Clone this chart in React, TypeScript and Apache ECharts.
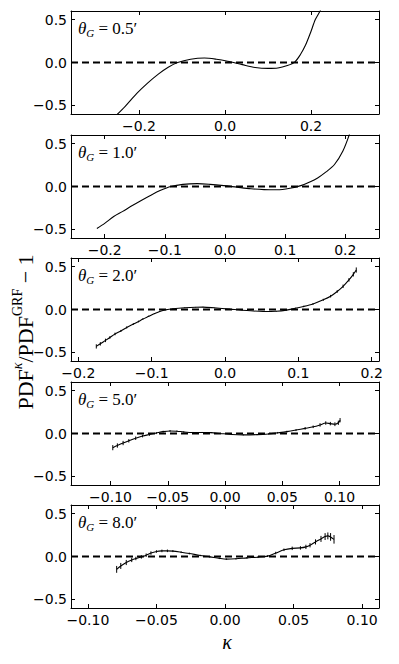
import React, { useEffect, useRef } from "react";
import * as echarts from "echarts";

// ---- data ----
const thetaLabels = ["0.5", "1.0", "2.0", "5.0", "8.0"];
const xHalfRanges = [0.358, 0.256, 0.21, 0.1345, 0.1123];
const xTicks1 = [-0.2, 0, 0.2];
const xTicks2 = [-0.2, -0.1, 0, 0.1, 0.2];
const xTicks3 = [-0.2, -0.1, 0, 0.1, 0.2];
const xTicks4 = [-0.1, -0.05, 0, 0.05, 0.1];
const xTicks5 = [-0.1, -0.05, 0, 0.05, 0.1];
const xDecimals = [1, 1, 1, 2, 2];
const yTicks = [-0.5, 0, 0.5];
const yRange = [-0.6, 0.6];

// [kappa, ratio, err]
const curve1 = [
  [-0.26, -0.65, 0], [-0.232, -0.51, 0], [-0.205, -0.36, 0], [-0.18, -0.24, 0],
  [-0.155, -0.135, 0], [-0.132, -0.055, 0], [-0.11, 0.0, 0],
  [-0.08, 0.038, 0], [-0.048, 0.052, 0], [-0.02, 0.038, 0], [0.006, 0.015, 0],
  [0.04, -0.025, 0], [0.07, -0.058, 0], [0.1, -0.069, 0], [0.123, -0.064, 0],
  [0.145, -0.035, 0], [0.162, 0.005, 0], [0.175, 0.09, 0], [0.187, 0.2, 0],
  [0.199, 0.35, 0], [0.21, 0.5, 0], [0.221, 0.6, 0], [0.235, 0.75, 0],
];
const curve2 = [
  [-0.213, -0.49, 0], [-0.2, -0.43, 0], [-0.185, -0.35, 0], [-0.17, -0.29, 0],
  [-0.157, -0.234, 0], [-0.14, -0.165, 0], [-0.124, -0.104, 0], [-0.107, -0.045, 0],
  [-0.09, 0.0, 0], [-0.07, 0.025, 0], [-0.046, 0.033, 0], [-0.025, 0.025, 0],
  [-0.002, 0.01, 0], [0.02, -0.008, 0], [0.043, -0.026, 0], [0.065, -0.036, 0],
  [0.087, -0.038, 0], [0.108, -0.02, 0], [0.126, 0.01, 0], [0.14, 0.05, 0],
  [0.154, 0.1, 0], [0.168, 0.17, 0], [0.182, 0.256, 0], [0.196, 0.413, 0],
  [0.207, 0.61, 0],
];
const curve3 = [
  [-0.1755, -0.43, 0.025], [-0.17, -0.4, 0.02], [-0.163, -0.36, 0.02], [-0.157, -0.326, 0.015],
  [-0.15, -0.285, 0.015], [-0.142, -0.25, 0.012], [-0.134, -0.209, 0.012], [-0.125, -0.17, 0.01],
  [-0.118, -0.14, 0.01], [-0.112, -0.112, 0.008], [-0.104, -0.08, 0.008], [-0.096, -0.048, 0.006],
  [-0.089, -0.023, 0.006], [-0.08, -0.003, 0.005], [-0.071, 0.008, 0.004], [-0.055, 0.02, 0.003],
  [-0.04, 0.027, 0.003], [-0.03, 0.028, 0.003], [-0.015, 0.02, 0.003], [0.007, 0.004, 0.003],
  [0.03, -0.012, 0.003], [0.052, -0.023, 0.003], [0.07, -0.02, 0.004], [0.084, -0.007, 0.005],
  [0.096, 0.015, 0.006], [0.107, 0.035, 0.008], [0.12, 0.065, 0.01], [0.134, 0.113, 0.012],
  [0.144, 0.155, 0.015], [0.153, 0.21, 0.015], [0.161, 0.27, 0.02], [0.169, 0.345, 0.02],
  [0.175, 0.41, 0.025], [0.179, 0.46, 0.03],
];
const curve4 = [
  [-0.098, -0.165, 0.03], [-0.094, -0.14, 0.025], [-0.089, -0.111, 0.025], [-0.084, -0.085, 0.02],
  [-0.078, -0.055, 0.02], [-0.072, -0.03, 0.015], [-0.066, -0.012, 0.015], [-0.06, 0.005, 0.012],
  [-0.054, 0.022, 0.01], [-0.048, 0.03, 0.01], [-0.042, 0.027, 0.008], [-0.036, 0.018, 0.008],
  [-0.028, 0.012, 0.006], [-0.02, 0.012, 0.006], [-0.012, 0.01, 0.006], [-0.004, 0.0, 0.006],
  [0.006, -0.012, 0.006], [0.016, -0.016, 0.006], [0.028, -0.013, 0.006], [0.038, -0.005, 0.008],
  [0.046, 0.008, 0.01], [0.054, 0.022, 0.01], [0.062, 0.04, 0.012], [0.07, 0.06, 0.015],
  [0.077, 0.078, 0.015], [0.083, 0.1, 0.02], [0.088, 0.122, 0.02], [0.092, 0.115, 0.02],
  [0.096, 0.108, 0.022], [0.099, 0.125, 0.025], [0.1005, 0.155, 0.025],
];
const curve5 = [
  [-0.079, -0.15, 0.04], [-0.076, -0.11, 0.035], [-0.072, -0.07, 0.03], [-0.068, -0.04, 0.025],
  [-0.065, -0.023, 0.02], [-0.061, -0.005, 0.02], [-0.0575, 0.015, 0.02], [-0.054, 0.04, 0.02],
  [-0.05, 0.058, 0.015], [-0.046, 0.065, 0.015], [-0.042, 0.066, 0.015], [-0.038, 0.063, 0.012],
  [-0.032, 0.05, 0.01], [-0.026, 0.035, 0.01], [-0.018, 0.012, 0.008], [-0.011, -0.004, 0.008],
  [-0.004, -0.022, 0.008], [0.001, -0.031, 0.008], [0.008, -0.027, 0.008], [0.016, -0.016, 0.01],
  [0.024, -0.008, 0.01], [0.031, 0.004, 0.01], [0.037, 0.04, 0.015], [0.043, 0.078, 0.015],
  [0.049, 0.095, 0.02], [0.055, 0.1, 0.02], [0.059, 0.112, 0.025], [0.062, 0.131, 0.025],
  [0.066, 0.17, 0.03], [0.07, 0.205, 0.035], [0.073, 0.232, 0.04], [0.075, 0.24, 0.04],
  [0.077, 0.228, 0.045], [0.0795, 0.2, 0.05],
];
const curves = [curve1, curve2, curve3, curve4, curve5];
const xTickSets = [xTicks1, xTicks2, xTicks3, xTicks4, xTicks5];

// ---- layout ----
const GRID_LEFT = 71;
const GRID_WIDTH = 308;
const GRID_TOPS = [11, 135, 258, 382, 505];
const GRID_HEIGHT = 103;

const fmt = (v: number, d: number) => {
  const s = Math.abs(v).toFixed(d);
  return (v < -1e-9 ? "\u2212" : "") + s;
};

export default function App() {
  const ref = useRef<HTMLDivElement>(null);
  useEffect(() => {
    if (!ref.current) return;
    const chart = echarts.init(ref.current, null, { renderer: "svg" });
    const black = "#000";
    const tickFont = { fontFamily: "DejaVu Sans", fontSize: 14, color: black };

    const grids: any[] = [];
    const xAxes: any[] = [];
    const yAxes: any[] = [];
    const series: any[] = [];
    const graphics: any[] = [];

    for (let i = 0; i < 5; i++) {
      grids.push({ left: GRID_LEFT, top: GRID_TOPS[i], width: GRID_WIDTH, height: GRID_HEIGHT, containLabel: false });
      const xr = xHalfRanges[i];
      const ticks = xTickSets[i];
      const dec = xDecimals[i];
      ["bottom", "top"].forEach((pos) => {
        xAxes.push({
          gridIndex: i,
          type: "value",
          position: pos,
          min: -xr,
          max: xr,
          axisLine: { show: true, onZero: false, lineStyle: { color: black, width: 1 } },
          axisTick: { show: true, inside: true, length: 4, customValues: ticks, lineStyle: { color: black, width: 1 } },
          axisLabel: {
            show: pos === "bottom",
            customValues: ticks,
            formatter: (v: number) => fmt(v, dec),
            margin: 5,
            ...tickFont,
          },
          splitLine: { show: false },
        });
      });
      ["left", "right"].forEach((pos) => {
        yAxes.push({
          gridIndex: i,
          type: "value",
          position: pos,
          min: yRange[0],
          max: yRange[1],
          axisLine: { show: true, onZero: false, lineStyle: { color: black, width: 1 } },
          axisTick: { show: true, inside: true, length: 4, customValues: yTicks, lineStyle: { color: black, width: 1 } },
          axisLabel: {
            show: pos === "left",
            customValues: yTicks,
            formatter: (v: number) => fmt(v, 1),
            margin: 4,
            ...tickFont,
          },
          splitLine: { show: false },
        });
      });
      const xi = i * 2;
      const yi = i * 2;
      const data = curves[i];
      series.push({
        type: "line",
        xAxisIndex: xi,
        yAxisIndex: yi,
        data: data.map((d) => [d[0], d[1]]),
        showSymbol: false,
        smooth: 0.3,
        clip: true,
        lineStyle: { color: black, width: 1.1 },
        z: 2,
      });
      if (data.some((d) => d[2] > 0)) {
        series.push({
          type: "custom",
          xAxisIndex: xi,
          yAxisIndex: yi,
          data: data,
          clip: true,
          encode: { x: 0, y: 1 },
          renderItem: (params: any, api: any) => {
            const x = api.value(0);
            const y = api.value(1);
            const e = api.value(2);
            const p1 = api.coord([x, y - e]);
            const p2 = api.coord([x, y + e]);
            return {
              type: "line",
              shape: { x1: p1[0], y1: p1[1], x2: p2[0], y2: p2[1] },
              style: { stroke: black, lineWidth: 1 },
            };
          },
          z: 2,
        });
      }
      series.push({
        type: "line",
        xAxisIndex: xi,
        yAxisIndex: yi,
        data: [[-xr, 0], [xr, 0]],
        showSymbol: false,
        lineStyle: { color: black, width: 2, type: [7, 4] },
        z: 3,
      });
      graphics.push({
        type: "text",
        x: GRID_LEFT + 7,
        y: GRID_TOPS[i] + 17,
        style: {
          text: `{it|θ}{sub|G}{rm| = ${thetaLabels[i]}′}`,
          verticalAlign: "middle",
          align: "left",
          rich: {
            it: { fontFamily: "Liberation Serif", fontStyle: "italic", fontSize: 17, lineHeight: 20, fill: black },
            sub: { fontFamily: "Liberation Serif", fontStyle: "italic", fontSize: 11, lineHeight: 12, verticalAlign: "bottom", fill: black },
            rm: { fontFamily: "Liberation Serif", fontSize: 17, lineHeight: 20, fill: black },
          },
        },
      });
    }

    graphics.push({
      type: "text",
      x: 25,
      y: 332,
      rotation: Math.PI / 2,
      style: {
        text: "{m|PDF}{supi|κ}{m|/PDF}{sup|GRF}{m| − 1}",
        align: "center",
        verticalAlign: "middle",
        rich: {
          m: { fontFamily: "Liberation Serif", fontSize: 22, lineHeight: 30, fill: black },
          sup: { fontFamily: "Liberation Serif", fontSize: 14, lineHeight: 14, verticalAlign: "top", fill: black },
          supi: { fontFamily: "Liberation Serif", fontStyle: "italic", fontSize: 14, lineHeight: 14, verticalAlign: "top", fill: black },
        },
      },
    });
    graphics.push({
      type: "text",
      x: 227,
      y: 642,
      style: {
        text: "κ",
        align: "center",
        verticalAlign: "middle",
        font: "italic 20px 'Liberation Serif'",
        fill: black,
      },
    });

    chart.setOption({
      animation: false,
      backgroundColor: "#fff",
      grid: grids,
      xAxis: xAxes,
      yAxis: yAxes,
      series,
      graphic: graphics,
    });
    return () => chart.dispose();
  }, []);
  return <div ref={ref} style={{ position: "fixed", left: 0, top: 0, width: 399, height: 664 }} />;
}
